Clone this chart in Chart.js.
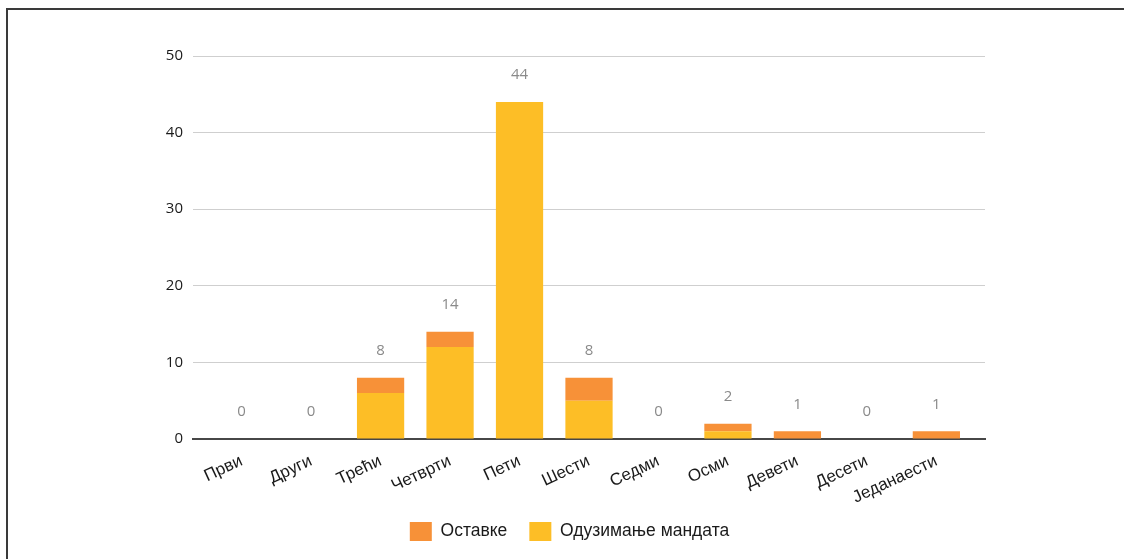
<!DOCTYPE html>
<html>
<head>
<meta charset="utf-8">
<script src="https://cdn.jsdelivr.net/npm/chart.js@4.4.1/dist/chart.umd.min.js"></script>
<style>
  html, body { margin: 0; padding: 0; background: #fff; }
  body { width: 1124px; height: 559px; position: relative; overflow: hidden; }
  #frame { position: absolute; left: 6px; top: 8px; width: 1130px; height: 560px;
           border-top: 2px solid #3a3a3a; border-left: 2px solid #3a3a3a; }
  #wrap { position: absolute; left: 0; top: 0; width: 1124px; height: 559px; }
</style>
</head>
<body>
<div id="frame"></div>
<div id="wrap"><canvas id="c" width="1124" height="559"></canvas></div>
<script>
const categories = ['Први', 'Други', 'Трећи', 'Четврти', 'Пети', 'Шести', 'Седми', 'Осми', 'Девети', 'Десети', 'Једанаести'];
const ostavke = [0, 0, 2, 2, 0, 3, 0, 1, 1, 0, 1];
const oduzimanje = [0, 0, 6, 12, 44, 5, 0, 1, 0, 0, 0];
const yTicks = [0, 10, 20, 30, 40, 50];
const seriesNames = ['Оставке', 'Одузимање мандата'];

const toPoints = arr => arr.map((v, i) => ({ x: i, y: v }));

const totalsPlugin = {
  id: 'totals',
  afterDatasetsDraw(chart) {
    const { ctx, scales } = chart;
    ctx.save();
    ctx.font = '15px "Open Sans"';
    ctx.fillStyle = '#8a8a8a';
    ctx.textAlign = 'center';
    ctx.textBaseline = 'middle';
    categories.forEach((c, i) => {
      const total = ostavke[i] + oduzimanje[i];
      const x = scales.x.getPixelForValue(i);
      const y = scales.y.getPixelForValue(total) - 27;
      ctx.fillText(String(total), x, y);
    });
    ctx.restore();
  }
};

new Chart(document.getElementById('c'), {
  type: 'bar',
  data: {
    datasets: [
      { label: seriesNames[1], data: toPoints(oduzimanje), backgroundColor: '#FDBE26', borderWidth: 0 },
      { label: seriesNames[0], data: toPoints(ostavke), backgroundColor: '#F79138', borderWidth: 0 }
    ]
  },
  options: {
    responsive: false,
    animation: false,
    layout: { padding: { top: 56, right: 139, left: 154, bottom: 8 } },
    datasets: { bar: { barPercentage: 0.68, categoryPercentage: 1 } },
    scales: {
      x: {
        type: 'linear',
        stacked: true,
        offset: false,
        min: -0.7,
        max: 10.7,
        afterBuildTicks: s => { s.ticks = s.ticks.filter(t => Number.isInteger(t.value) && t.value >= 0 && t.value < categories.length); },
        afterFit: s => { s.height = 61; s._computeLabelArea = () => undefined; },
        grid: { display: false, drawTicks: false, offset: false },
        border: { display: true, color: '#474747', width: 2 },
        ticks: {
          autoSkip: false,
          stepSize: 1,
          minRotation: 25,
          maxRotation: 25,
          padding: 12,
          color: '#1a1a1a',
          font: { family: '"Liberation Sans", Arial, sans-serif', size: 17 },
          callback: v => categories[v] ?? ''
        }
      },
      y: {
        stacked: true,
        min: 0,
        max: 50,
        afterBuildTicks: s => { s.ticks = yTicks.map(v => ({ value: v })); },
        afterFit: s => { s.width = 39; },
        grid: { color: '#cfcfcf', lineWidth: 1, drawTicks: false },
        border: { display: false },
        ticks: {
          padding: 10,
          color: '#1a1a1a',
          font: { family: '"Open Sans", sans-serif', size: 15 }
        }
      }
    },
    plugins: {
      legend: {
        position: 'bottom',
        labels: {
          boxWidth: 22,
          boxHeight: 19,
          padding: 22,
          color: '#1a1a1a',
          font: { family: '"Liberation Sans", Arial, sans-serif', size: 17.5 },
          sort: (a, b) => b.datasetIndex - a.datasetIndex
        }
      },
      tooltip: { enabled: false }
    }
  },
  plugins: [totalsPlugin]
});
</script>
</body>
</html>
